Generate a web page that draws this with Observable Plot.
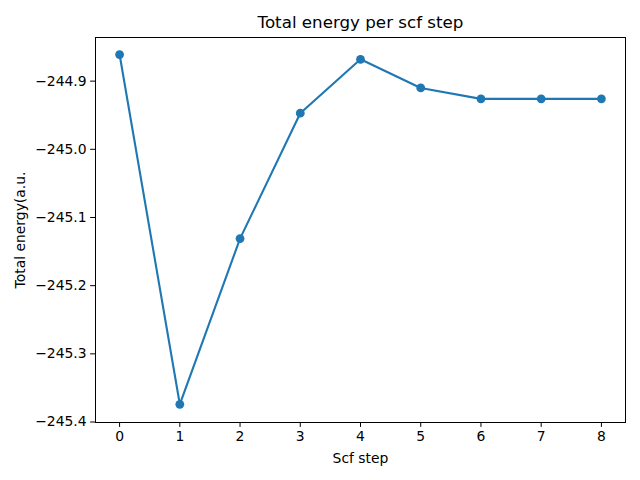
<!DOCTYPE html>
<html>
<head>
<meta charset="utf-8">
<script src="https://cdn.jsdelivr.net/npm/d3@7"></script>
<script src="https://cdn.jsdelivr.net/npm/@observablehq/plot@0.6"></script>
<style>
  body { margin: 0; background: white; }
  svg { font-family: "DejaVu Sans", sans-serif; }
</style>
</head>
<body>
<div id="chart"></div>
<script>
const steps = [0, 1, 2, 3, 4, 5, 6, 7, 8];
const energy = [-244.861, -245.374, -245.131, -244.947, -244.868, -244.910, -244.926, -244.926, -244.926];
const xTicks = [0, 1, 2, 3, 4, 5, 6, 7, 8];
const yTicks = [-245.4, -245.3, -245.2, -245.1, -245.0, -244.9];
const title = "Total energy per scf step";
const xLabel = "Scf step";
const yLabel = "Total energy(a.u.";

const data = steps.map((s, i) => ({step: s, energy: energy[i]}));
const color = "#1f77b4";
const fmt = d3.format(".1f");

const chart = Plot.plot({
  width: 640,
  height: 480,
  marginLeft: 95,
  marginRight: 15,
  marginTop: 37,
  marginBottom: 58,
  style: {fontFamily: "DejaVu Sans, sans-serif", fontSize: "13.9px", color: "black", background: "white"},
  x: {domain: [-0.4, 8.4]},
  y: {domain: [-245.4007, -244.836]},
  marks: [
    Plot.axisX({ticks: xTicks, tickSize: 4.9, tickPadding: 4, tickFormat: d => String(d),
      label: xLabel, labelAnchor: "center", labelArrow: "none", labelOffset: 40, fontSize: 13.9}),
    Plot.axisY({ticks: yTicks, tickSize: 4.9, tickPadding: 4, tickFormat: d => fmt(d),
      label: yLabel, labelAnchor: "center", labelArrow: "none", labelOffset: 80, fontSize: 13.9}),
    Plot.line(data, {x: "step", y: "energy", stroke: color, strokeWidth: 2.1}),
    Plot.dot(data, {x: "step", y: "energy", fill: color, r: 4.4}),
    Plot.frame({stroke: "black", strokeWidth: 1}),
    Plot.text([title], {frameAnchor: "top", lineAnchor: "middle", dy: -15, fontSize: 16.7, fill: "black", text: d => d})
  ]
});
document.getElementById("chart").appendChild(chart);
</script>
</body>
</html>
